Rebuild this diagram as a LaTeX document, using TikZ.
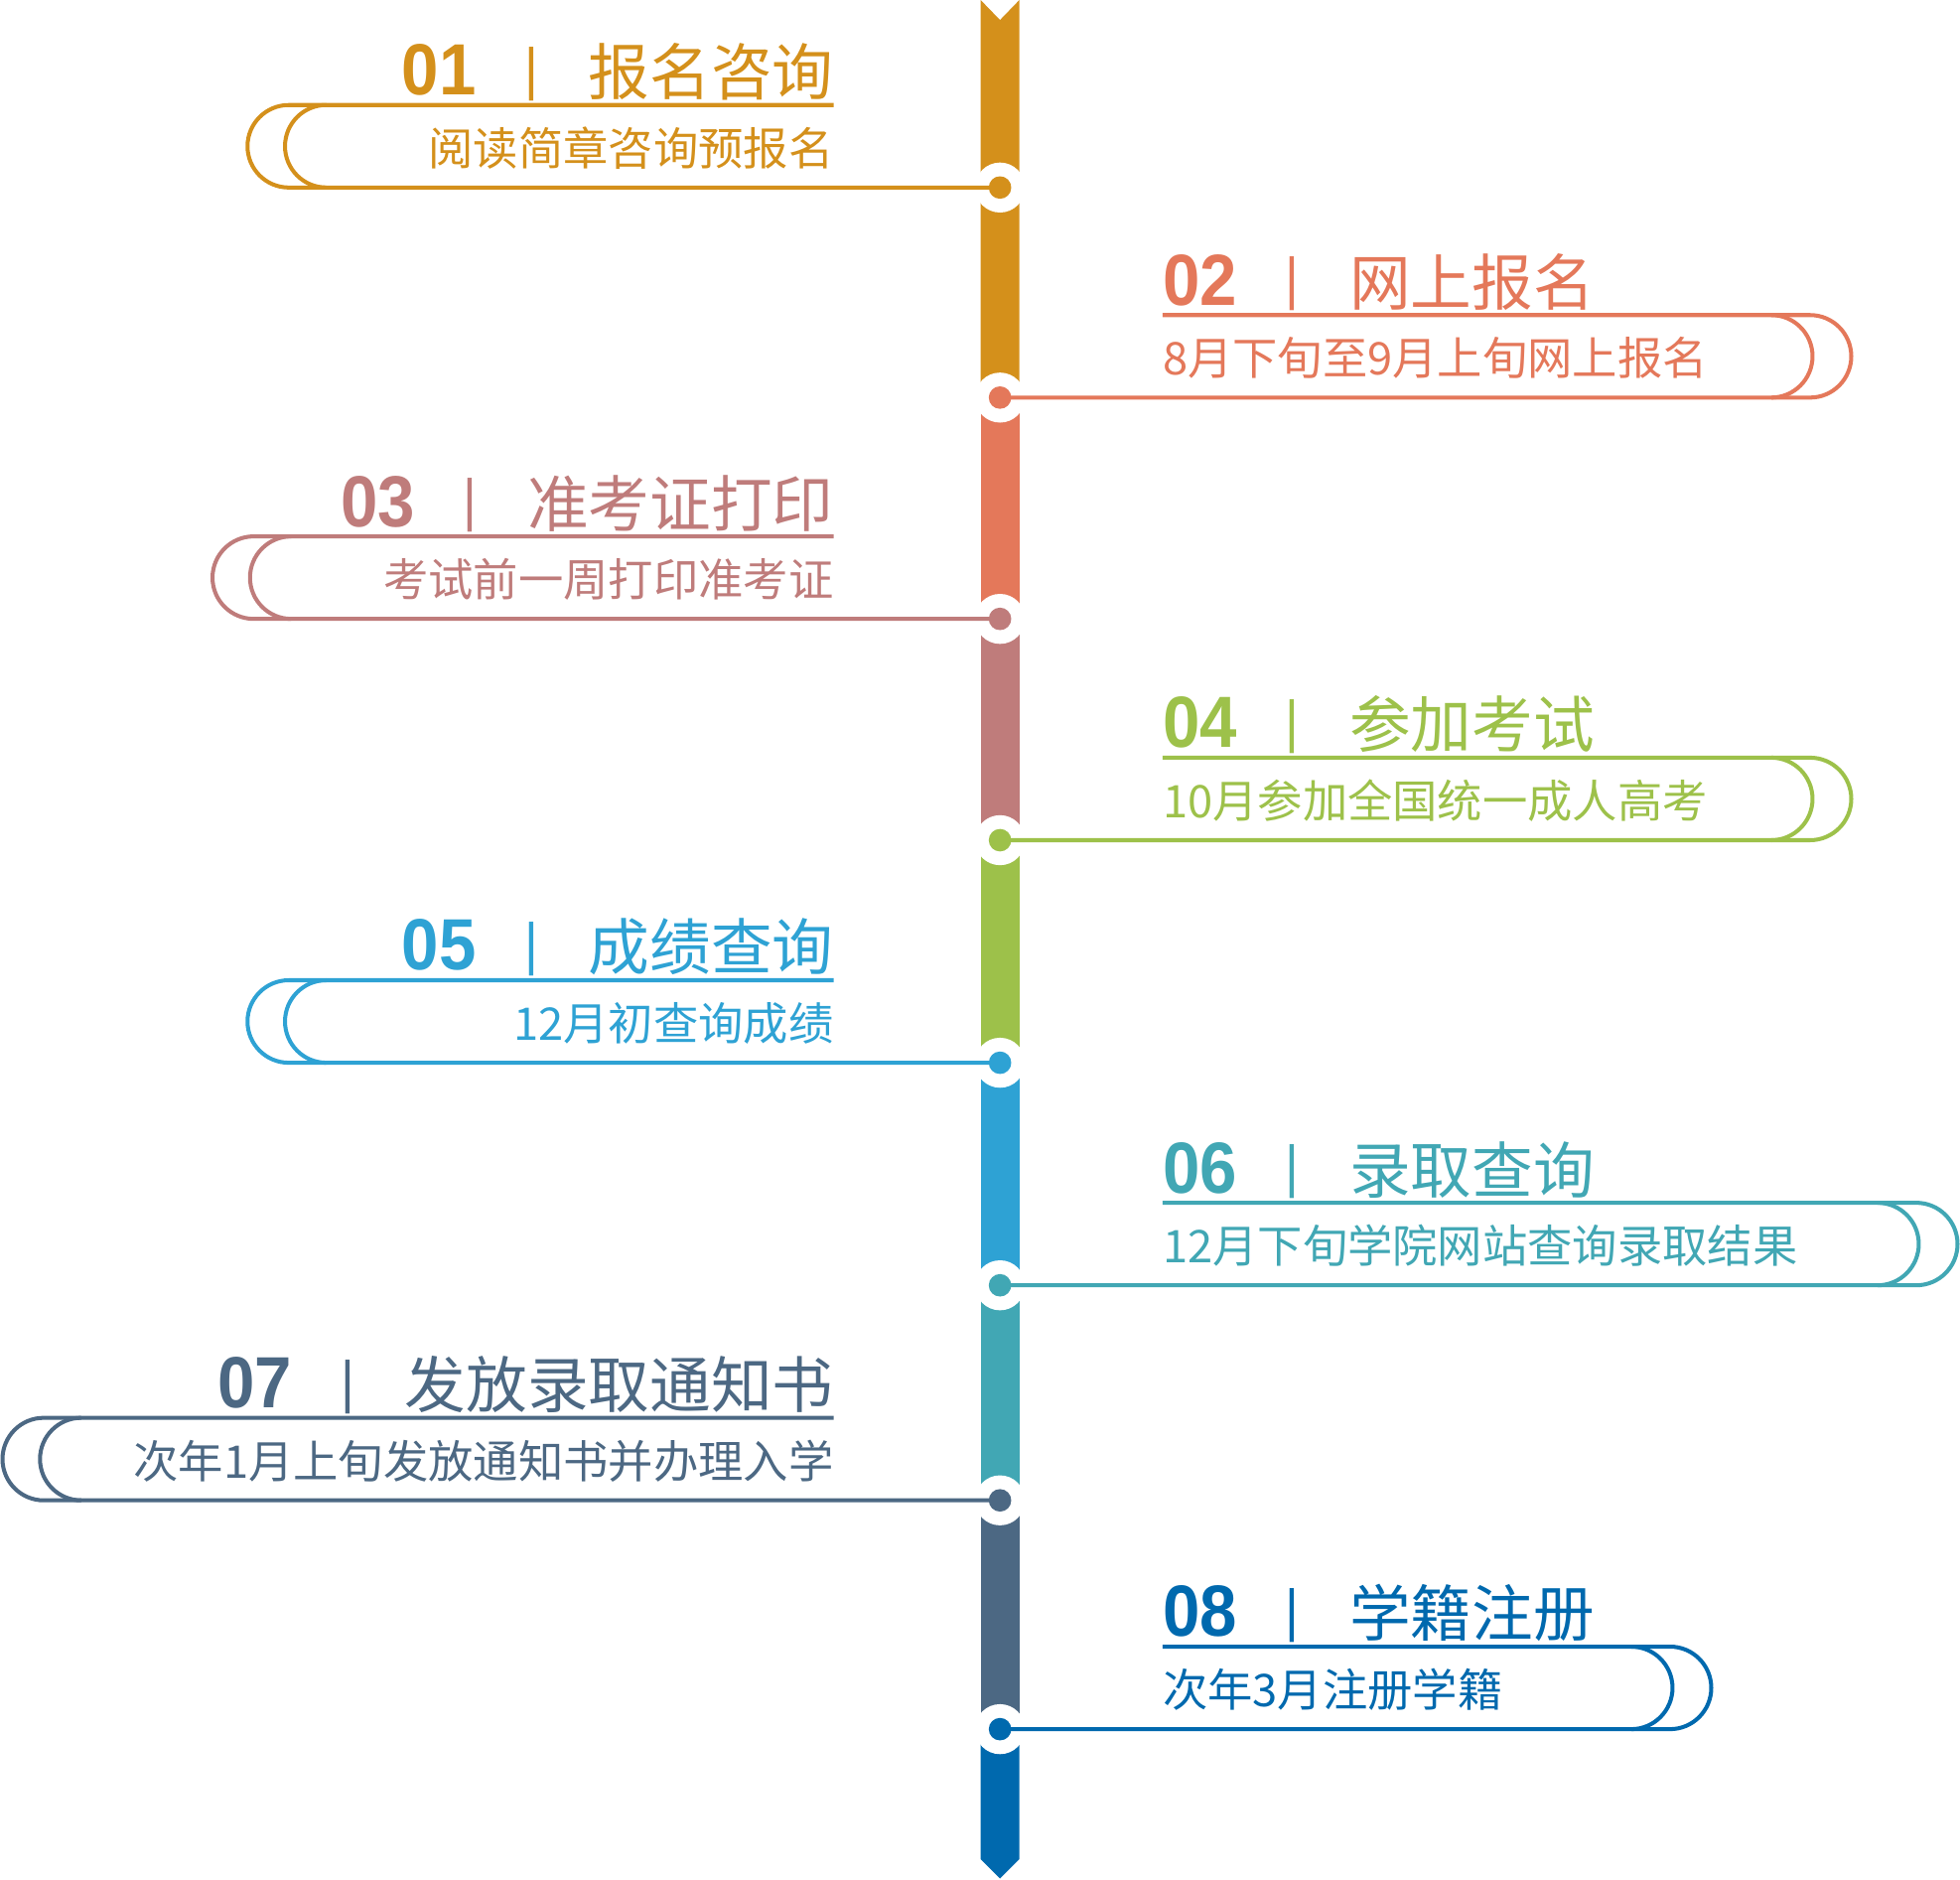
\documentclass[tikz,border=0pt]{standalone}
\usepackage{fontspec}
\setmainfont{Noto Sans CJK SC}
\newfontfamily\numfont{Liberation Sans}[FakeStretch=0.92]
\usetikzlibrary{positioning}

\definecolor{stepA}{HTML}{D4901B}
\definecolor{stepB}{HTML}{E4785A}
\definecolor{stepC}{HTML}{BF7C7B}
\definecolor{stepD}{HTML}{9DC14A}
\definecolor{stepE}{HTML}{2EA2D4}
\definecolor{stepF}{HTML}{41A7B4}
\definecolor{stepG}{HTML}{4C6883}
\definecolor{stepH}{HTML}{0069AE}

% 标题: 序号 | 名称
\newcommand{\stephead}[2]{{\numfont\bfseries\fontsize{58}{58}\selectfont #1}\hspace{39pt}\raisebox{5pt}{\numfont\fontsize{46}{46}\selectfont|}\hspace{40pt}#2}

\begin{document}
\begin{tikzpicture}[
        x=1pt, y=1pt,
        gap ring/.style={
            circle,
            fill=white,
            inner sep=0pt,
            minimum size=40pt
        },
        knot/.style={
            circle,
            fill=#1,
            inner sep=0pt,
            minimum size=18pt
        },
        scroll/.style={
            draw=#1,
            line width=3.2pt
        },
        head/.style={
            text=#1,
            inner sep=0pt,
            font=\fontsize{49}{49}\selectfont
        },
        brief/.style={
            text=#1,
            inner sep=0pt,
            font=\fontsize{36}{36}\selectfont
        }
    ]
    \useasboundingbox (0,0) rectangle (1568,-1503);

    % 时间轴上的节点位置
    \coordinate (p1) at (800,-150);
    \coordinate (p2) at (800,-318);
    \coordinate (p3) at (800,-495);
    \coordinate (p4) at (800,-672);
    \coordinate (p5) at (800,-850);
    \coordinate (p6) at (800,-1028);
    \coordinate (p7) at (800,-1200);
    \coordinate (p8) at (800,-1383);

    % 时间轴主干 - 分段着色
    \fill[stepA] (784.5,0) -- (800,-16) -- (815.5,0) -- (815.5,-318) -- (784.5,-318) -- cycle;
    \fill[stepB] (784.5,-318) rectangle (815.5,-495);
    \fill[stepC] (784.5,-495) rectangle (815.5,-672);
    \fill[stepD] (784.5,-672) rectangle (815.5,-850);
    \fill[stepE] (784.5,-850) rectangle (815.5,-1028);
    \fill[stepF] (784.5,-1028) rectangle (815.5,-1200);
    \fill[stepG] (784.5,-1200) rectangle (815.5,-1383);
    \fill[stepH] (784.5,-1383) -- (815.5,-1383) -- (815.5,-1487) -- (800,-1502.5) -- (784.5,-1487) -- cycle;

    % 节点处的白色间隔
    \node[gap ring] (g1) at (p1) {};
    \node[gap ring] (g2) at (p2) {};
    \node[gap ring] (g3) at (p3) {};
    \node[gap ring] (g4) at (p4) {};
    \node[gap ring] (g5) at (p5) {};
    \node[gap ring] (g6) at (p6) {};
    \node[gap ring] (g7) at (p7) {};
    \node[gap ring] (g8) at (p8) {};

    % 01 - 报名咨询 (左)
    \draw[scroll=stepA] (p1) -- (231,-150) arc[start angle=270, end angle=90, radius=33] -- (667,-84);
    \draw[scroll=stepA] (261,-84) arc[start angle=90, end angle=270, radius=33];
    \node[head=stepA, anchor=base east] (h1) at (667,-76) {\stephead{01}{报名咨询}};
    \node[brief=stepA, anchor=base east] (b1) at (667,-132) {阅读简章咨询预报名};

    % 02 - 网上报名 (右)
    \draw[scroll=stepB] (p2) -- (1448,-318) arc[start angle=-90, end angle=90, radius=33] -- (930,-252);
    \draw[scroll=stepB] (1417,-252) arc[start angle=90, end angle=-90, radius=33];
    \node[head=stepB, anchor=base west] (h2) at (930,-244) {\stephead{02}{网上报名}};
    \node[brief=stepB, anchor=base west] (b2) at (930,-300) {8月下旬至9月上旬网上报名};

    % 03 - 准考证打印 (左)
    \draw[scroll=stepC] (p3) -- (203,-495) arc[start angle=270, end angle=90, radius=33] -- (667,-429);
    \draw[scroll=stepC] (233,-429) arc[start angle=90, end angle=270, radius=33];
    \node[head=stepC, anchor=base east] (h3) at (667,-421) {\stephead{03}{准考证打印}};
    \node[brief=stepC, anchor=base east] (b3) at (667,-477) {考试前一周打印准考证};

    % 04 - 参加考试 (右)
    \draw[scroll=stepD] (p4) -- (1448,-672) arc[start angle=-90, end angle=90, radius=33] -- (930,-606);
    \draw[scroll=stepD] (1417,-606) arc[start angle=90, end angle=-90, radius=33];
    \node[head=stepD, anchor=base west] (h4) at (930,-598) {\stephead{04}{参加考试}};
    \node[brief=stepD, anchor=base west] (b4) at (930,-654) {10月参加全国统一成人高考};

    % 05 - 成绩查询 (左)
    \draw[scroll=stepE] (p5) -- (231,-850) arc[start angle=270, end angle=90, radius=33] -- (667,-784);
    \draw[scroll=stepE] (261,-784) arc[start angle=90, end angle=270, radius=33];
    \node[head=stepE, anchor=base east] (h5) at (667,-776) {\stephead{05}{成绩查询}};
    \node[brief=stepE, anchor=base east] (b5) at (667,-832) {12月初查询成绩};

    % 06 - 录取查询 (右)
    \draw[scroll=stepF] (p6) -- (1533,-1028) arc[start angle=-90, end angle=90, radius=33] -- (930,-962);
    \draw[scroll=stepF] (1502,-962) arc[start angle=90, end angle=-90, radius=33];
    \node[head=stepF, anchor=base west] (h6) at (930,-954) {\stephead{06}{录取查询}};
    \node[brief=stepF, anchor=base west] (b6) at (930,-1010) {12月下旬学院网站查询录取结果};

    % 07 - 发放录取通知书 (左)
    \draw[scroll=stepG] (p7) -- (35,-1200) arc[start angle=270, end angle=90, radius=33] -- (667,-1134);
    \draw[scroll=stepG] (65,-1134) arc[start angle=90, end angle=270, radius=33];
    \node[head=stepG, anchor=base east] (h7) at (667,-1126) {\stephead{07}{发放录取通知书}};
    \node[brief=stepG, anchor=base east] (b7) at (667,-1182) {次年1月上旬发放通知书并办理入学};

    % 08 - 学籍注册 (右)
    \draw[scroll=stepH] (p8) -- (1336,-1383) arc[start angle=-90, end angle=90, radius=33] -- (930,-1317);
    \draw[scroll=stepH] (1305,-1317) arc[start angle=90, end angle=-90, radius=33];
    \node[head=stepH, anchor=base west] (h8) at (930,-1309) {\stephead{08}{学籍注册}};
    \node[brief=stepH, anchor=base west] (b8) at (930,-1365) {次年3月注册学籍};

    % 时间轴圆点
    \node[knot=stepA] (d1) at (p1) {};
    \node[knot=stepB] (d2) at (p2) {};
    \node[knot=stepC] (d3) at (p3) {};
    \node[knot=stepD] (d4) at (p4) {};
    \node[knot=stepE] (d5) at (p5) {};
    \node[knot=stepF] (d6) at (p6) {};
    \node[knot=stepG] (d7) at (p7) {};
    \node[knot=stepH] (d8) at (p8) {};
\end{tikzpicture}
\end{document}
